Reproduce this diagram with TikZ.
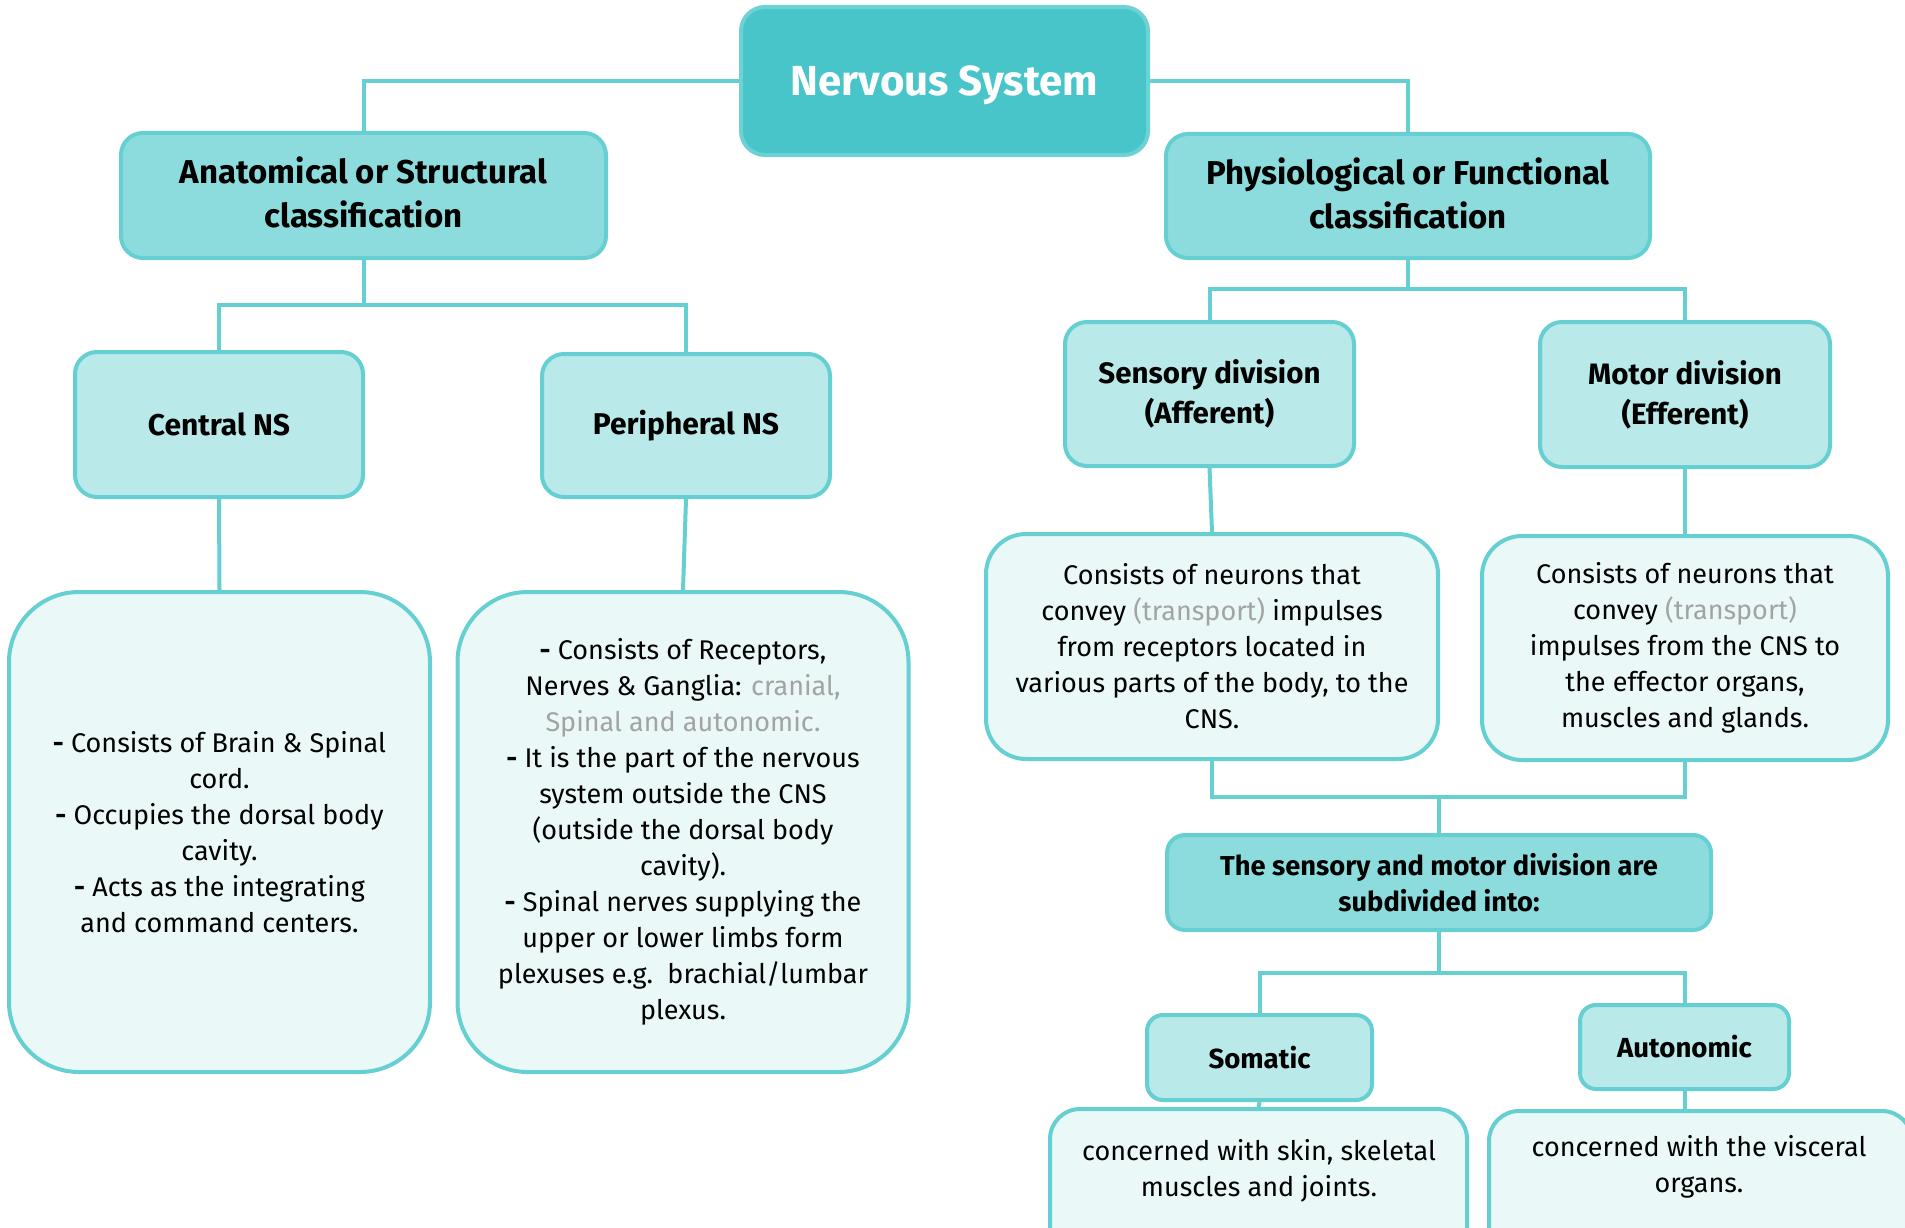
\documentclass[tikz,border=0pt]{standalone}
\usepackage{fontspec}
\setmainfont{Fira Sans}
\definecolor{tealA}{HTML}{47C5C9}
\definecolor{tealAb}{HTML}{6CD2D4}
\definecolor{tealB}{HTML}{8DDCDD}
\definecolor{tealC}{HTML}{B9E9E9}
\definecolor{tealD}{HTML}{EAF8F8}
\definecolor{edgec}{HTML}{66CFD2}
\definecolor{greytxt}{HTML}{A3A3A3}
\tikzset{
 sz/.style 2 args={minimum width=#1pt, minimum height=#2pt},
 basebox/.style={draw=edgec, line width=4pt, inner sep=0pt, align=center, text=black},
 lvlone/.style={basebox, draw=tealAb, fill=tealA, rounded corners=24pt, text=white, font=\bfseries\fontsize{42}{48}\selectfont},
 lvltwo/.style={basebox, fill=tealB, rounded corners=22pt, font=\bfseries\fontsize{33}{44}\selectfont},
 lvlthree/.style={basebox, fill=tealC, rounded corners=22pt, font=\bfseries\fontsize{30}{40}\selectfont},
 bigbox/.style={basebox, fill=tealD, rounded corners=70pt, font=\fontsize{27}{36}\selectfont},
 txtbox/.style={basebox, fill=tealD, rounded corners=40pt, font=\fontsize{27}{36}\selectfont},
 conn/.style={draw=edgec, line width=4pt},
 plaintxt/.style={inner sep=0pt, align=center, font=\fontsize{27}{36}\selectfont},
}
\newcommand{\gr}[1]{\textcolor{greytxt}{#1}}
\newcommand{\dsh}{\textbf{-} }
\begin{document}
\begin{tikzpicture}[x=1pt,y=-1pt]
\useasboundingbox (0,0) rectangle (1905,1228);
\clip (0,0) rectangle (1905,1228);
\fill[white] (0,0) rectangle (1905,1228);

% nodes
\node[lvlone, sz={407}{148}, text depth=0pt] (ns) at (944.5,81) {Nervous System};
\node[lvltwo, sz={485}{125}, inner ysep=0pt, text depth=6pt] (anat) at (363.5,195.5) {Anatomical or Structural\\classification};
\node[lvltwo, sz={484}{124}, text depth=6pt] (phys) at (1408,196) {Physiological or Functional\\classification};
\node[lvlthree, sz={288}{145}] (cns) at (219,424.5) {Central NS};
\node[lvlthree, sz={288}{143}] (pns) at (686,425.5) {Peripheral NS};
\node[bigbox, sz={421}{480}] (cnsbox) at (219.5,832) {\dsh Consists of Brain \& Spinal\\cord.\\\dsh Occupies the dorsal body\\cavity.\\\dsh Acts as the integrating\\and command centers.};
\node[bigbox, sz={451}{480}] (pnsbox) at (683,832) {\dsh Consists of Receptors,\\Nerves \& Ganglia: \gr{cranial,}\\\gr{Spinal and autonomic.}\\\dsh It is the part of the nervous\\system outside the CNS\\(outside the dorsal body\\cavity).\\\dsh Spinal nerves supplying the\\upper or lower limbs form\\plexuses e.g.\ \ brachial/lumbar\\plexus.};
\node[lvlthree, sz={289}{144}, font=\bfseries\fontsize{29.5}{40}\selectfont] (sens) at (1209.5,394) {Sensory division\\(Afferent)};
\node[lvlthree, sz={290}{145}, font=\bfseries\fontsize{29.5}{40}\selectfont] (mot) at (1685,394.5) {Motor division\\(Efferent)};
\node[txtbox, sz={452}{225}] (senstxt) at (1212,646.5) {Consists of neurons that\\convey \gr{(transport)} impulses\\from receptors located in\\various parts of the body, to the\\CNS.};
\node[txtbox, sz={406}{224}] (mottxt) at (1685,648) {Consists of neurons that\\convey \gr{(transport)}\\impulses from the CNS to\\the effector organs,\\muscles and glands.};
\node[lvltwo, sz={544}{95}, rounded corners=18pt, font=\bfseries\fontsize{27.3}{36}\selectfont] (sub) at (1439,882.5) {The sensory and motor division are\\subdivided into:};
\node[lvlthree, sz={225}{85}, rounded corners=16pt, font=\bfseries\fontsize{27.6}{36}\selectfont] (som) at (1259.5,1057.5) {Somatic};
\node[lvlthree, sz={209}{84}, rounded corners=16pt, font=\bfseries\fontsize{27.6}{36}\selectfont] (aut) at (1684.5,1047) {Autonomic};
\node[txtbox, sz={417}{181}, rounded corners=30pt] (somtxt) at (1258.5,1199.5) {};
\node[txtbox, sz={423}{179}, rounded corners=30pt] (auttxt) at (1700.5,1200.5) {};
\node[plaintxt] (somlab) at (1259,1171) {concerned with skin, skeletal\\muscles and joints.};
\node[plaintxt] (autlab) at (1699,1167) {concerned with the visceral\\organs.};

% junctions
\coordinate (aj) at (363.5,305);
\coordinate (pj) at (1408,289);
\coordinate (sj) at (1439,797);
\coordinate (dj) at (1439,973);

% connectors
\draw[conn] (ns.west) -| (anat.north);
\draw[conn] (ns.east) -| (phys.north);
\draw[conn] (anat.south) -- (aj);
\draw[conn] (cns.north) |- (aj) -| (pns.north);
\draw[conn] (cns.south) -- (cnsbox.north);
\draw[conn] (pns.south) -- (pnsbox.north);
\draw[conn] (phys.south) -- (pj);
\draw[conn] (sens.north) |- (pj) -| (mot.north);
\draw[conn] (sens.south) -- (senstxt.north);
\draw[conn] (mot.south) -- (mottxt.north);
\draw[conn] (senstxt.south) |- (sj) -| (mottxt.south);
\draw[conn] (sj) -- (sub.north);
\draw[conn] (sub.south) -- (dj);
\draw[conn] (som.north) |- (dj) -| (aut.north);
\draw[conn] (som.south) -- (somtxt.north);
\draw[conn] (aut.south) -- (aut.south |- auttxt.north);
\end{tikzpicture}
\end{document}
